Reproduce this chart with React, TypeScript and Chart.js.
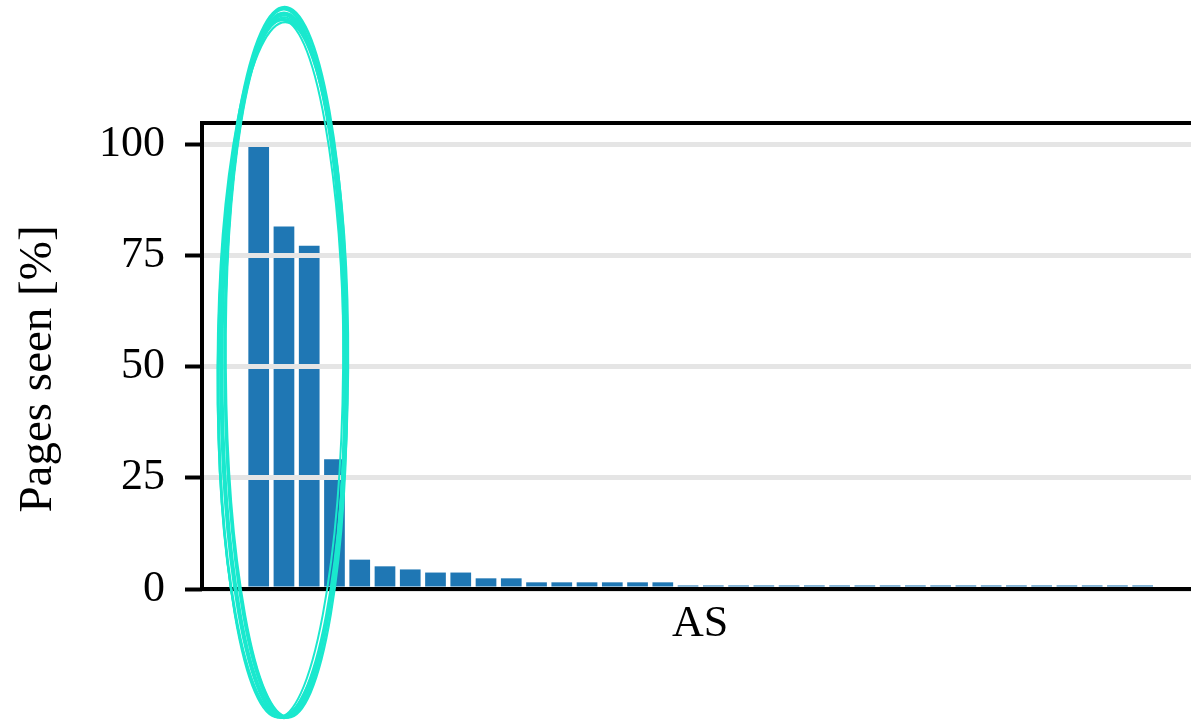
import React, { useEffect, useRef } from "react";
import { Chart, registerables } from "chart.js";

Chart.register(...registerables);

// ---- data ----
const asRanks = [
  0, 1, 2, 3, 4, 5, 6, 7, 8, 9, 10, 11, 12, 13, 14, 15, 16, 17,
  18, 19, 20, 21, 22, 23, 24, 25, 26, 27, 28, 29, 30, 31, 32, 33, 34, 35,
];
const pagesSeen = [
  99.4, 81.5, 77.2, 29.2, 6.6, 5.1, 4.4, 3.7, 3.7, 2.4, 2.4,
  1.5, 1.5, 1.5, 1.5, 1.5, 1.5,
  0.8, 0.8, 0.8, 0.8, 0.8, 0.8, 0.8, 0.8, 0.8, 0.8, 0.8, 0.8, 0.8, 0.8, 0.8, 0.8, 0.8, 0.8, 0.8,
];
const yTicks = [0, 25, 50, 75, 100];
const xTitle = "AS";
const yTitle = "Pages seen [%]";
// highlighted group (data units): centre [x, y], radii [x, y]
const highlightCenter = [1, 50.3];
const highlightRadius = [2.46, 79.2];

const FONT = "'Liberation Serif', 'Times New Roman', serif";
const BAR = "#1f77b4";
const CYAN = "rgb(26, 232, 206)";

const spinesPlugin = {
  id: "spines",
  afterDraw(chart: any) {
    const { ctx, chartArea } = chart;
    const { left, right, top, bottom } = chartArea;
    ctx.save();
    ctx.strokeStyle = "#000";
    ctx.lineWidth = 4;
    ctx.lineCap = "square";
    ctx.beginPath();
    ctx.moveTo(left, bottom);
    ctx.lineTo(left, top);
    ctx.lineTo(right + 10, top);
    ctx.moveTo(left, bottom);
    ctx.lineTo(right + 10, bottom);
    ctx.stroke();
    ctx.restore();
  },
};

const yTitlePlugin = {
  id: "yTitle",
  afterDraw(chart: any) {
    const { ctx, chartArea } = chart;
    const cy = (chartArea.top + chartArea.bottom) / 2 + 13;
    ctx.save();
    ctx.translate(39, cy);
    ctx.rotate(-Math.PI / 2);
    ctx.fillStyle = "#000";
    ctx.font = `47px ${FONT}`;
    ctx.textAlign = "center";
    ctx.textBaseline = "middle";
    ctx.fillText(yTitle, 0, 0);
    ctx.restore();
  },
};

const highlightPlugin = {
  id: "highlight",
  afterDraw(chart: any) {
    const { ctx } = chart;
    const xs = chart.scales.x;
    const ys = chart.scales.y;
    const cx = xs.getPixelForValue(highlightCenter[0]);
    const cy = ys.getPixelForValue(highlightCenter[1]);
    const rx = Math.abs(xs.getPixelForValue(highlightCenter[0] + highlightRadius[0]) - cx);
    const ry = Math.abs(ys.getPixelForValue(highlightCenter[1] + highlightRadius[1]) - cy);
    const strokes = [
      { dx: 0, dy: 0, drx: 0, dry: 0, rot: 0, w: 3.4 },
      { dx: -2, dy: 3, drx: 2, dry: -3, rot: 0.004, w: 2.6 },
      { dx: 1, dy: -2, drx: -2, dry: 2, rot: -0.003, w: 2.6 },
      { dx: -1, dy: 4, drx: 3, dry: -5, rot: 0.007, w: 2.2 },
      { dx: 2, dy: 1, drx: -1, dry: -1, rot: -0.006, w: 2.4 },
      { dx: 0, dy: -3, drx: 1, dry: 3, rot: 0.002, w: 3 },
      { dx: -3, dy: 2, drx: 0, dry: -2, rot: 0.009, w: 2 },
      { dx: 1, dy: 3, drx: -3, dry: -4, rot: -0.008, w: 2 },
    ];
    ctx.save();
    ctx.strokeStyle = CYAN;
    for (const s of strokes) {
      ctx.lineWidth = s.w;
      ctx.beginPath();
      ctx.ellipse(cx + s.dx, cy + s.dy, rx + s.drx, ry + s.dry, s.rot, 0, Math.PI * 2);
      ctx.stroke();
    }
    ctx.restore();
  },
};

export default function App() {
  const ref = useRef<HTMLCanvasElement | null>(null);

  useEffect(() => {
    const canvas = ref.current;
    if (!canvas) return;
    const chart = new Chart(canvas, {
      type: "bar",
      data: {
        datasets: [
          {
            data: asRanks.map((x, i) => ({ x, y: pagesSeen[i] })),
            backgroundColor: BAR,
            borderWidth: 0,
            barPercentage: 0.82,
            categoryPercentage: 1,
          },
        ],
      },
      options: {
        animation: false,
        responsive: false,
        devicePixelRatio: 1,
        layout: { padding: { left: 0, top: 123, right: 2, bottom: 0 } },
        plugins: { legend: { display: false }, tooltip: { enabled: false } },
        scales: {
          x: {
            type: "linear",
            offset: false,
            min: -2.245,
            max: 37.19,
            grid: { display: false },
            border: { display: false },
            ticks: { display: false },
            afterFit: (s: any) => {
              s.height = 132;
            },
            title: {
              display: true,
              text: xTitle,
              color: "#000",
              font: { family: FONT, size: 44 },
              padding: { top: 0, bottom: 70 },
            },
          },
          y: {
            type: "linear",
            min: 0,
            max: 104.8,
            afterBuildTicks: (s: any) => {
              s.ticks = yTicks.map((v) => ({ value: v }));
            },
            afterFit: (s: any) => {
              s.width = 202;
            },
            grid: {
              z: 1,
              color: "#e5e5e5",
              lineWidth: 5,
              drawTicks: true,
              tickLength: 17,
              tickWidth: 4,
              tickColor: "#000",
            },
            border: { display: false },
            ticks: {
              padding: 20,
              color: "#000",
              font: { family: FONT, size: 44 },
            },
            title: { display: false },
          },
        },
      },
      plugins: [spinesPlugin, yTitlePlugin, highlightPlugin],
    } as any);
    return () => chart.destroy();
  }, []);

  return (
    <div
      style={{
        position: "fixed",
        left: 0,
        top: 0,
        width: 1191,
        height: 721,
        overflow: "hidden",
        background: "#fff",
      }}
    >
      <canvas ref={ref} width={1200} height={721} style={{ display: "block", width: 1200, height: 721 }} />
    </div>
  );
}
